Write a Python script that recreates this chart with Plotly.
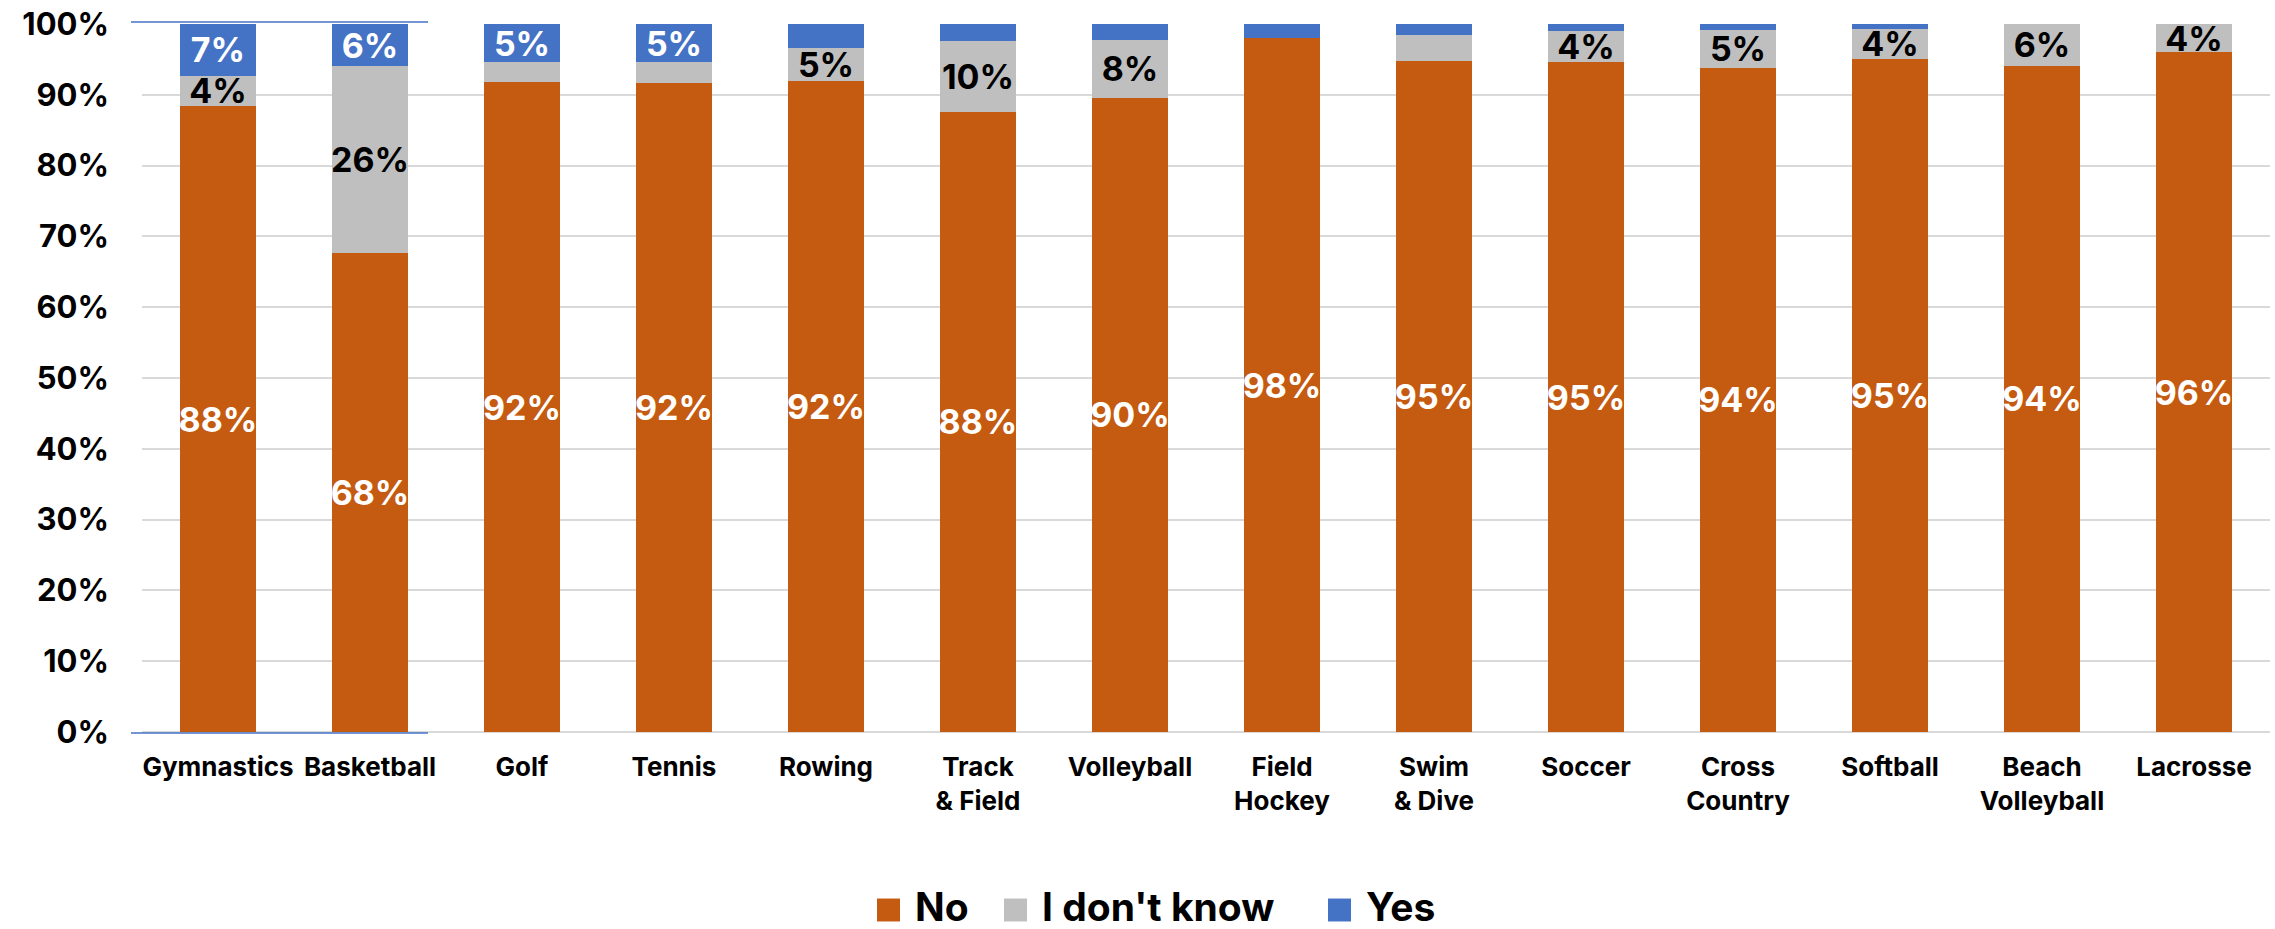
import plotly.graph_objects as go

# Survey responses by sport (percent of respondents)
categories = [
    "Gymnastics", "Basketball", "Golf", "Tennis", "Rowing", "Track<br>& Field",
    "Volleyball", "Field<br>Hockey", "Swim<br>& Dive", "Soccer", "Cross<br>Country",
    "Softball", "Beach<br>Volleyball", "Lacrosse",
]
no_pct = [88.4, 67.6, 91.8, 91.6, 92.0, 87.6, 89.6, 98.0, 94.8, 94.6, 93.8, 95.1, 94.1, 96.0]
dont_know_pct = [4.3, 26.4, 2.8, 3.0, 4.6, 10.0, 8.2, 0.0, 3.6, 4.4, 5.4, 4.2, 5.9, 4.0]
yes_pct = [7.3, 6.0, 5.4, 5.4, 3.4, 2.4, 2.2, 2.0, 1.6, 1.0, 0.8, 0.7, 0.0, 0.0]

series_names = ["No", "I don't know", "Yes"]
series_values = [no_pct, dont_know_pct, yes_pct]
series_colors = ["#C55A11", "#BFBFBF", "#4472C4"]
label_colors = ["#FFFFFF", "#000000", "#FFFFFF"]

y_ticks = [0, 10, 20, 30, 40, 50, 60, 70, 80, 90, 100]
y_tick_text = [f"{t}%" for t in y_ticks]

FONT = "Inter, Roboto, 'DejaVu Sans', sans-serif"
LABEL_MIN = 4.0  # segments smaller than this carry no value label

W, H = 2275, 929
M_L, M_R, M_T, M_B = 142, 5, 22, 197
PLOT_W = W - M_L - M_R
PLOT_H = H - M_T - M_B


def px_x(x):
    return (x - M_L) / PLOT_W


def px_y(y):
    return (H - M_B - y) / PLOT_H


def seg_label(v):
    return f"{int(v + 0.5)}%" if v >= LABEL_MIN else ""


fig = go.Figure()
for name, vals, color, tcolor in zip(series_names, series_values, series_colors, label_colors):
    fig.add_trace(go.Bar(
        name=name,
        x=categories,
        y=vals,
        marker=dict(color=color, line=dict(width=0)),
        text=[seg_label(v) for v in vals],
        textposition="inside",
        insidetextanchor="middle",
        textangle=0,
        constraintext="none",
        textfont=dict(family=FONT, size=34, color=tcolor, weight="bold"),
        showlegend=False,
        hoverinfo="skip",
    ))

# Legend drawn as squares plus labels below the axis
legend_sq_x = [877, 1004, 1328]
legend_txt_x = [913, 1040, 1364]
shapes = []
annotations = []
for name, color, sx, tx in zip(series_names, series_colors, legend_sq_x, legend_txt_x):
    shapes.append(dict(
        type="rect", xref="paper", yref="paper",
        x0=px_x(sx), x1=px_x(sx + 23), y0=px_y(922), y1=px_y(899),
        fillcolor=color, line=dict(width=0),
    ))
    annotations.append(dict(
        xref="paper", yref="paper", x=px_x(tx), y=px_y(907),
        xanchor="left", yanchor="middle", showarrow=False, text=name,
        font=dict(family=FONT, size=39, color="#000000", weight="bold"),
    ))

# Thin blue accent lines along the top and bottom of the first two columns
for yy in (20, 733):
    shapes.append(dict(
        type="line", xref="paper", yref="paper",
        x0=px_x(131), x1=px_x(428), y0=px_y(yy), y1=px_y(yy),
        line=dict(color="#4472C4", width=1.5),
    ))

fig.update_layout(
    width=W, height=H,
    margin=dict(l=M_L, r=M_R, t=M_T, b=M_B),
    barmode="stack",
    bargap=0.5,
    plot_bgcolor="#FFFFFF",
    paper_bgcolor="#FFFFFF",
    shapes=shapes,
    annotations=annotations,
    font=dict(family=FONT, color="#000000"),
)
fig.update_yaxes(
    range=[0, 100],
    tickmode="array",
    tickvals=y_ticks,
    ticktext=y_tick_text,
    showgrid=True, gridcolor="#D9D9D9", gridwidth=2,
    zeroline=True, zerolinecolor="#D9D9D9", zerolinewidth=2,
    showline=False, ticks="",
    ticklabelstandoff=32,
    tickfont=dict(family=FONT, size=31, color="#000000", weight="bold"),
    fixedrange=True,
)
fig.update_xaxes(
    showgrid=False, showline=False, ticks="",
    tickangle=0,
    ticklabelstandoff=17,
    tickfont=dict(family=FONT, size=26, color="#000000", weight="bold"),
    fixedrange=True,
)

fig.write_html("out.html")
